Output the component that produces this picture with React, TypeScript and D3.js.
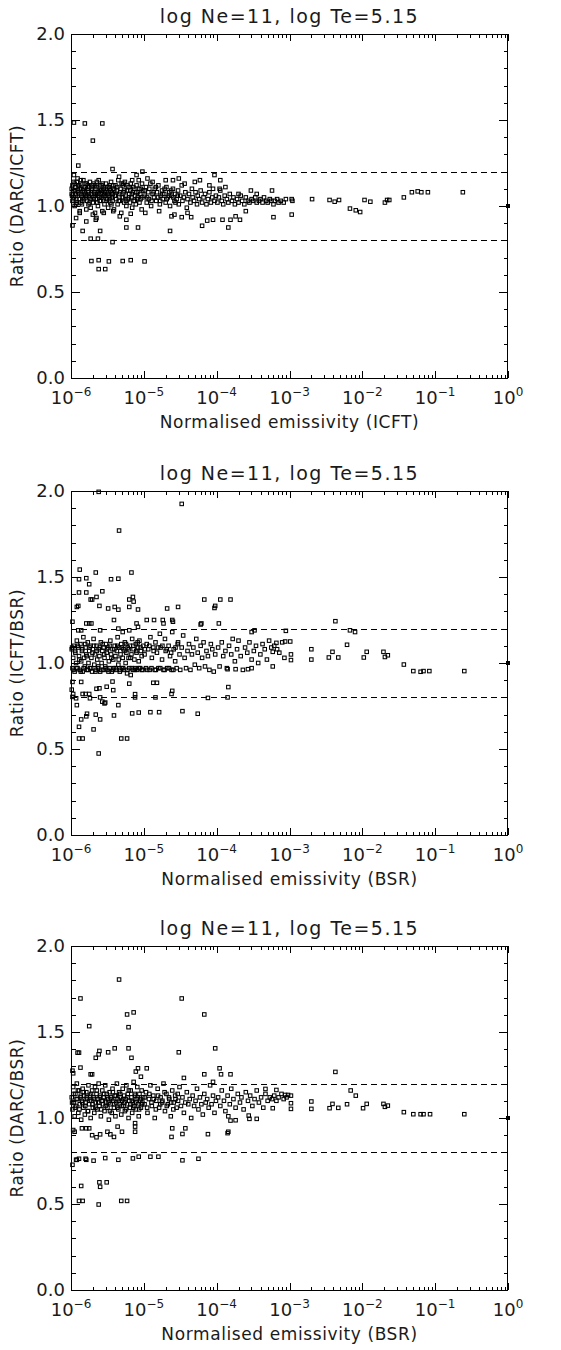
import React, { useEffect, useRef } from "react";
import * as d3 from "d3";

// each point: [log10 normalised emissivity, ratio]
const darcIcft: [number, number][] = [
  [-5.96,1.485],[-5.81,1.48],[-5.57,1.48],[-5.70,1.38],[-5.90,1.235],[-5.43,1.215],[-5.10,1.18],[-5.02,1.20],
  [-4.03,1.18],[-4.23,1.15],[-3.95,1.15],[-4.52,1.16],[-4.70,1.15],[-3.53,1.09],[-3.24,1.09],[-2.97,1.04],
  [-2.96,1.03],[-2.97,0.95],[-2.69,1.04],[-2.45,1.035],[-2.38,1.025],[-2.32,1.035],[-2.17,0.985],[-2.09,0.975],
  [-2.03,0.965],[-1.97,1.035],[-1.89,1.025],[-1.69,1.02],[-1.66,1.035],[-1.63,1.035],[-1.43,1.05],[-1.32,1.08],
  [-1.24,1.085],[-1.19,1.08],[-1.10,1.08],[-0.62,1.08],
  [-3.22,0.935],[-3.60,0.97],[-3.84,0.875],[-3.81,0.92],[-3.74,0.94],[-3.68,0.92],[-4.13,0.915],[-4.05,0.92],
  [-3.92,0.92],[-4.20,0.885],[-4.35,0.935],[-4.48,0.935],[-4.64,0.855],[-4.62,0.94],[-5.18,0.955],[-5.24,0.92],
  [-5.24,0.875],[-5.08,0.875],[-5.43,0.79],[-5.60,0.855],[-5.84,0.855],[-5.98,0.887],[-5.73,0.81],[-5.63,0.81],
  [-5.72,0.68],[-5.62,0.685],[-5.48,0.678],[-5.29,0.68],[-5.18,0.685],[-4.99,0.678],[-5.62,0.633],[-5.53,0.633],
  [-5.93,0.93],[-5.79,0.91],[-5.88,0.96],[-5.70,0.95],[-5.65,0.93],[-5.55,0.96],[-5.33,0.94],[-5.42,0.97],
  [-4.98,0.96],[-4.79,0.97],[-4.58,0.95],[-4.40,0.96],[-5.66,0.92],[-5.34,1.17],[-5.28,1.13],[-5.16,1.15],
  [-4.95,1.16],[-4.88,1.14],[-4.60,1.15],[-4.44,1.13],[-4.30,1.14],[-4.10,1.12],[-3.96,1.10],[-3.88,1.11],
  [-3.70,1.07],[-3.45,1.07],
  [-5.99,1.07],[-5.98,1.12],[-5.98,1.03],[-5.97,1.09],[-5.96,1.18],[-5.96,1.05],[-5.95,1.00],[-5.94,1.11],
  [-5.93,1.07],[-5.92,1.14],[-5.92,1.02],[-5.91,1.16],[-5.90,1.08],[-5.89,1.04],[-5.88,1.10],[-5.88,0.97],
  [-5.87,1.13],[-5.86,1.06],[-5.85,1.01],[-5.84,1.09],[-5.83,1.15],[-5.82,1.04],[-5.81,1.11],[-5.80,1.07],
  [-5.79,0.98],[-5.78,1.03],[-5.77,1.12],[-5.76,1.08],[-5.75,1.05],[-5.74,1.14],[-5.73,0.99],[-5.72,1.10],
  [-5.71,1.06],[-5.70,1.02],[-5.69,1.13],[-5.68,1.08],[-5.67,0.96],[-5.66,1.04],[-5.65,1.11],[-5.64,1.07],
  [-5.63,1.00],[-5.62,1.15],[-5.61,1.05],[-5.60,1.09],[-5.59,1.03],[-5.58,1.12],[-5.57,0.97],[-5.56,1.06],
  [-5.55,1.10],[-5.54,1.01],[-5.53,1.08],[-5.52,1.13],[-5.51,1.04],[-5.50,1.07],[-5.49,0.99],[-5.48,1.11],
  [-5.47,1.05],[-5.46,1.02],[-5.45,1.14],[-5.44,1.08],[-5.43,1.03],[-5.42,1.10],[-5.41,0.98],[-5.40,1.06],
  [-5.39,1.12],[-5.38,1.04],[-5.37,1.09],[-5.36,1.01],[-5.35,1.15],[-5.34,1.07],[-5.33,1.03],[-5.32,1.10],
  [-5.31,0.96],[-5.30,1.05],[-5.29,1.12],[-5.28,1.08],[-5.27,1.02],[-5.26,1.14],[-5.25,1.06],[-5.24,1.00],
  [-5.23,1.09],[-5.22,1.04],[-5.21,1.11],[-5.20,1.07],[-5.19,1.02],[-5.18,1.13],[-5.17,1.05],[-5.16,0.99],
  [-5.15,1.08],[-5.14,1.03],[-5.13,1.10],[-5.12,1.06],[-5.11,1.01],[-5.10,1.12],[-5.09,1.04],[-5.08,1.08],
  [-5.07,1.15],[-5.06,1.02],[-5.05,1.07],[-5.04,1.10],[-5.03,0.98],[-5.02,1.05],[-5.01,1.09],
  [-5.99,1.10],[-5.97,1.04],[-5.95,1.13],[-5.94,1.06],[-5.93,1.01],[-5.91,1.09],[-5.89,1.12],[-5.87,1.02],
  [-5.86,1.10],[-5.84,1.05],[-5.82,1.08],[-5.80,1.13],[-5.78,1.06],[-5.76,1.01],[-5.75,1.11],[-5.73,1.04],
  [-5.71,1.09],[-5.69,1.05],[-5.67,1.12],[-5.66,1.07],[-5.64,1.02],[-5.62,1.08],[-5.60,1.12],[-5.58,1.05],
  [-5.56,1.09],[-5.54,1.06],[-5.52,1.03],[-5.50,1.11],[-5.48,1.06],[-5.46,1.09],[-5.44,1.05],[-5.42,1.12],
  [-5.985,1.06],[-5.965,1.14],[-5.945,1.09],[-5.925,1.04],[-5.905,1.12],[-5.885,1.07],[-5.865,1.15],[-5.845,1.03],
  [-5.825,1.10],[-5.805,1.06],[-5.785,1.13],[-5.765,1.09],[-5.745,1.02],[-5.725,1.07],[-5.705,1.12],[-5.685,1.04],
  [-5.665,1.10],[-5.645,1.14],[-5.625,1.06],[-5.605,1.03],[-5.585,1.09],[-5.565,1.13],[-5.545,1.07],[-5.525,1.10],
  [-5.505,1.04],[-5.485,1.08],[-5.465,1.12],[-5.445,1.01],[-5.425,1.07],[-5.405,1.09],[-5.385,1.06],[-5.365,1.11],
  [-5.345,1.03],[-5.325,1.08],[-5.305,1.13],[-5.285,1.05],[-5.265,1.09],[-5.245,1.03],[-5.225,1.12],[-5.205,1.05],
  [-5.185,1.09],[-5.165,1.07],[-5.145,1.11],[-5.125,1.03],[-5.105,1.08],[-5.085,1.05],[-5.065,1.10],[-5.045,1.04],
  [-5.025,1.13],[-4.985,1.09],[-4.955,1.05],[-4.925,1.10],[-4.895,1.03],[-4.865,1.08],[-4.835,1.11],[-4.805,1.05],
  [-4.775,1.03],[-4.745,1.07],[-4.715,1.10],[-4.685,1.04],[-4.655,1.06],[-4.625,1.09],[-4.595,1.05],[-4.565,1.02],
  [-4.535,1.06],
  [-4.99,1.06],[-4.97,1.11],[-4.96,1.02],[-4.94,1.08],[-4.93,1.04],[-4.91,1.13],[-4.90,1.00],[-4.88,1.07],
  [-4.86,1.05],[-4.85,1.10],[-4.83,1.03],[-4.82,1.08],[-4.80,1.12],[-4.78,1.01],[-4.77,1.06],[-4.75,1.09],
  [-4.74,1.04],[-4.72,1.07],[-4.70,1.02],[-4.69,1.11],[-4.67,1.05],[-4.65,1.08],[-4.64,1.00],[-4.62,1.06],
  [-4.60,1.10],[-4.58,1.03],[-4.57,1.07],[-4.55,1.04],[-4.53,1.09],[-4.52,1.01],[-4.50,1.06],[-4.48,1.12],
  [-4.47,1.03],[-4.45,1.05],[-4.43,1.08],[-4.41,0.99],[-4.40,1.04],[-4.38,1.07],[-4.36,1.02],[-4.34,1.10],
  [-4.33,1.05],[-4.31,1.03],[-4.29,1.08],[-4.27,1.01],[-4.26,1.06],[-4.24,1.04],[-4.22,1.09],[-4.20,1.02],
  [-4.18,1.05],[-4.16,1.07],[-4.14,1.01],[-4.12,1.04],[-4.10,1.08],[-4.08,1.02],[-4.06,1.05],[-4.05,1.10],
  [-4.03,1.03],[-4.01,1.06],
  [-3.99,1.02],[-3.97,1.05],[-3.95,1.09],[-3.93,1.03],[-3.91,1.01],[-3.89,1.06],[-3.86,1.04],[-3.84,1.02],
  [-3.82,1.07],[-3.79,1.03],[-3.77,1.05],[-3.75,1.01],[-3.72,1.04],[-3.70,1.02],[-3.67,1.06],[-3.65,1.03],
  [-3.62,1.01],[-3.60,1.05],[-3.57,1.03],[-3.55,1.02],[-3.52,1.04],[-3.50,1.03],[-3.47,1.05],[-3.45,1.02],
  [-3.42,1.03],[-3.40,1.04],[-3.37,1.02],[-3.35,1.05],[-3.32,1.03],[-3.30,1.02],[-3.27,1.04],[-3.25,1.03],
  [-3.22,1.01],[-3.20,1.03],[-3.17,1.04],[-3.15,1.02],[-3.12,1.03],[-3.08,1.02],[-3.05,1.04],
];

const icftBsr: [number, number][] = [
  [-5.62,1.995],[-4.48,1.925],[-5.34,1.77],[-5.88,1.543],[-5.89,1.487],[-5.79,1.493],[-5.75,1.458],[-5.66,1.526],
  [-5.89,1.41],[-5.79,1.41],[-5.73,1.369],[-5.71,1.369],[-5.65,1.384],[-5.57,1.417],[-5.45,1.487],[-5.35,1.49],
  [-5.17,1.526],[-5.92,1.326],[-5.90,1.332],[-5.61,1.332],[-5.49,1.317],[-5.40,1.326],[-5.35,1.31],[-5.20,1.369],
  [-5.15,1.384],[-5.14,1.357],[-5.20,1.326],[-5.08,1.311],[-4.17,1.369],[-3.95,1.369],[-3.81,1.369],[-4.02,1.332],
  [-4.03,1.32],[-4.68,1.317],[-4.53,1.326],[-2.37,1.243],[-2.17,1.19],[-2.10,1.18],[-2.21,1.106],[-2.41,1.065],
  [-2.33,1.032],[-2.46,1.032],[-2.70,1.08],[-2.70,1.02],[-2.98,1.05],[-2.98,1.017],[-1.98,1.032],[-1.94,1.065],
  [-1.71,1.065],[-1.69,1.035],[-1.65,1.045],[-1.43,0.991],[-1.30,0.953],[-1.20,0.949],[-1.16,0.953],[-1.08,0.953],
  [-0.60,0.953],
  [-3.06,1.125],[-2.99,1.125],[-3.05,1.187],[-3.23,1.065],[-3.23,0.98],[-3.18,1.117],[-3.48,1.19],[-3.52,1.18],
  [-3.97,1.23],[-4.22,1.224],[-3.74,0.964],[-3.85,0.964],[-3.57,0.964],[-3.52,0.97],[-3.84,0.86],[-3.85,0.80],
  [-4.12,0.797],[-4.26,0.705],[-4.47,0.72],[-4.61,0.838],[-4.62,0.82],[-4.84,0.80],[-4.91,0.714],[-4.79,0.714],
  [-4.87,0.885],[-4.82,0.885],[-5.12,0.819],[-5.12,0.80],[-5.07,0.712],[-5.16,0.707],[-5.20,0.88],[-5.43,0.892],
  [-5.51,0.862],[-5.42,0.842],[-5.54,0.765],[-5.35,0.755],[-5.41,0.695],[-5.31,0.561],[-5.23,0.561],[-5.69,0.614],
  [-5.66,0.70],[-5.60,0.672],[-5.62,0.474],[-5.78,0.705],[-5.79,0.69],[-5.86,0.672],[-5.89,0.629],[-5.89,0.561],
  [-5.84,0.561],[-5.92,0.755],[-5.98,0.803],[-5.97,0.82],[-5.99,0.845],[-5.93,0.795],[-5.84,0.82],[-5.80,0.82],
  [-5.75,0.82],[-5.74,0.795],[-5.60,0.80],[-5.57,0.775],[-5.53,0.77],[-5.65,0.85],[-5.61,0.853],[-5.98,0.89],
  [-5.86,0.89],
  [-5.98,1.24],[-5.90,1.19],[-5.86,1.19],[-5.79,1.23],[-5.75,1.23],[-5.72,1.23],[-5.60,1.19],[-5.41,1.25],
  [-5.35,1.20],[-5.29,1.18],[-5.20,1.19],[-5.10,1.23],[-5.08,1.21],[-4.96,1.25],[-4.86,1.25],[-4.74,1.25],
  [-4.73,1.23],[-4.61,1.25],[-4.60,1.24],[-4.21,1.23],
  [-5.99,1.08],[-5.98,0.97],[-5.97,1.03],[-5.96,1.10],[-5.95,0.95],[-5.94,1.06],[-5.93,1.00],[-5.92,1.13],
  [-5.91,0.97],[-5.90,1.09],[-5.89,1.04],[-5.88,0.96],[-5.87,1.11],[-5.86,1.01],[-5.85,1.07],[-5.84,0.95],
  [-5.83,1.15],[-5.82,1.03],[-5.81,0.98],[-5.80,1.09],[-5.79,1.05],[-5.78,0.96],[-5.77,1.12],[-5.76,1.00],
  [-5.75,1.07],[-5.74,0.97],[-5.73,1.10],[-5.72,1.03],[-5.71,0.95],[-5.70,1.08],[-5.69,1.14],[-5.68,0.99],
  [-5.67,1.05],[-5.66,0.96],[-5.65,1.10],[-5.64,1.02],[-5.63,0.97],[-5.62,1.08],[-5.61,1.04],[-5.60,0.95],
  [-5.59,1.12],[-5.58,1.00],[-5.57,1.07],[-5.56,0.96],[-5.55,1.09],[-5.54,1.03],[-5.53,0.98],[-5.52,1.11],
  [-5.51,1.06],[-5.50,0.96],[-5.49,1.09],[-5.48,1.01],[-5.47,0.97],[-5.46,1.13],[-5.45,1.05],[-5.44,0.95],
  [-5.43,1.08],[-5.42,1.02],[-5.41,0.97],[-5.40,1.10],[-5.39,1.04],[-5.38,0.96],[-5.37,1.07],[-5.36,1.15],
  [-5.35,0.99],[-5.34,1.09],[-5.33,0.95],[-5.32,1.05],[-5.31,1.11],[-5.30,0.97],[-5.29,1.03],[-5.28,1.08],
  [-5.27,0.96],[-5.26,1.12],[-5.25,1.00],[-5.24,1.06],[-5.23,0.94],[-5.22,1.09],[-5.21,1.03],[-5.20,0.97],
  [-5.19,1.10],[-5.18,0.93],[-5.17,1.05],[-5.16,1.14],[-5.15,0.96],[-5.14,1.08],[-5.13,1.02],[-5.12,0.97],
  [-5.11,1.11],[-5.10,1.06],[-5.09,0.96],[-5.08,1.09],[-5.07,1.01],[-5.06,1.13],[-5.05,0.97],[-5.04,1.07],
  [-5.03,1.04],[-5.02,0.96],[-5.01,1.10],
  [-5.985,1.09],[-5.965,0.96],[-5.945,1.07],[-5.925,0.97],[-5.905,1.10],[-5.885,1.02],[-5.865,0.95],[-5.845,1.08],
  [-5.825,0.97],[-5.805,1.11],[-5.785,1.04],[-5.765,0.96],[-5.745,1.09],[-5.725,0.97],[-5.705,1.06],[-5.685,1.10],
  [-5.665,0.95],[-5.645,1.07],[-5.625,0.98],[-5.605,1.09],[-5.585,0.96],[-5.565,1.11],[-5.545,1.05],[-5.525,0.97],
  [-5.505,1.08],[-5.485,0.95],[-5.465,1.10],[-5.445,1.03],[-5.425,0.96],[-5.405,1.08],[-5.385,0.97],[-5.365,1.10],
  [-5.345,1.02],[-5.325,0.96],[-5.305,1.09],[-5.285,0.97],[-5.265,1.07],[-5.245,1.11],[-5.225,0.96],[-5.205,1.08],
  [-5.185,1.03],[-5.165,0.97],[-5.145,1.10],[-5.125,0.96],[-5.105,1.07],[-5.085,1.12],[-5.065,0.97],[-5.045,1.09],
  [-5.025,0.96],[-4.985,1.08],[-4.955,0.96],[-4.925,1.10],[-4.895,0.97],[-4.865,1.07],[-4.835,0.96],[-4.805,1.09],
  [-4.775,0.97],[-4.745,1.10],[-4.715,0.96],[-4.685,1.08],[-4.655,0.97],[-4.625,1.06],[-4.595,0.96],[-4.565,1.09],
  [-4.535,1.11],
  [-4.99,1.05],[-4.97,0.97],[-4.96,1.11],[-4.94,1.08],[-4.92,0.96],[-4.91,1.15],[-4.89,1.03],[-4.87,1.09],
  [-4.85,0.96],[-4.84,1.12],[-4.82,1.06],[-4.80,0.97],[-4.78,1.17],[-4.77,1.09],[-4.75,1.02],[-4.73,0.96],
  [-4.71,1.14],[-4.70,1.07],[-4.68,0.97],[-4.66,1.10],[-4.64,1.04],[-4.62,0.96],[-4.61,1.18],[-4.59,1.08],
  [-4.57,1.01],[-4.55,0.97],[-4.53,1.12],[-4.51,1.05],[-4.50,0.96],[-4.48,1.09],[-4.46,1.16],[-4.44,1.03],
  [-4.42,0.97],[-4.40,1.07],[-4.38,1.11],[-4.36,0.96],[-4.34,1.05],[-4.32,1.09],[-4.30,0.99],[-4.28,1.14],
  [-4.26,1.06],[-4.24,0.97],[-4.22,1.10],[-4.20,1.03],[-4.18,1.12],[-4.16,0.98],[-4.14,1.07],[-4.12,1.04],
  [-4.10,0.96],[-4.08,1.11],[-4.06,1.08],[-4.04,0.95],[-4.02,1.05],
  [-3.98,1.09],[-3.96,0.98],[-3.93,1.12],[-3.91,1.04],[-3.88,1.07],[-3.86,0.97],[-3.83,1.10],[-3.80,1.05],
  [-3.78,1.14],[-3.75,1.01],[-3.72,1.08],[-3.70,1.13],[-3.67,1.04],[-3.64,0.96],[-3.61,1.09],[-3.58,1.06],
  [-3.55,1.12],[-3.52,1.02],[-3.49,1.07],[-3.46,1.10],[-3.43,1.00],[-3.40,1.05],[-3.37,1.11],[-3.34,1.08],
  [-3.31,1.02],[-3.28,1.13],[-3.25,1.09],[-3.21,1.10],[-3.17,1.08],[-3.14,1.06],[-3.10,1.12],[-3.07,1.03],
];

const darcBsr: [number, number][] = [
  [-5.34,1.805],[-5.87,1.695],[-4.48,1.695],[-4.17,1.602],[-5.23,1.602],[-5.14,1.614],[-5.75,1.534],[-5.21,1.528],
  [-5.21,1.405],[-5.40,1.405],[-5.49,1.382],[-5.61,1.39],[-5.62,1.37],[-5.66,1.35],[-5.91,1.38],[-5.89,1.38],
  [-5.17,1.35],[-4.52,1.382],[-4.02,1.405],[-2.37,1.268],[-5.08,1.289],[-4.96,1.289],[-5.11,1.27],[-5.04,1.24],
  [-5.87,1.293],[-5.97,1.26],[-5.98,1.275],[-5.73,1.254],[-5.71,1.254],[-4.45,1.233],[-4.17,1.254],[-3.96,1.289],
  [-3.94,1.254],[-3.81,1.254],[-4.05,1.21],[-2.16,1.16],[-2.09,1.13],[-2.70,1.096],[-2.70,1.053],[-2.45,1.057],
  [-2.41,1.082],[-2.33,1.059],[-2.21,1.08],[-1.99,1.057],[-1.94,1.082],[-1.71,1.082],[-1.69,1.065],[-1.65,1.072],
  [-1.43,1.034],[-1.30,1.022],[-1.20,1.022],[-1.16,1.022],[-1.07,1.022],[-0.60,1.022],
  [-2.98,1.13],[-2.98,1.086],[-2.98,1.053],[-3.06,1.134],[-3.02,1.134],[-3.18,1.163],[-3.33,1.169],[-3.23,1.057],
  [-3.45,0.995],[-3.56,1.014],[-3.55,0.995],[-3.74,0.987],[-3.84,1.01],[-3.81,0.985],[-3.84,0.92],[-3.85,0.912],
  [-4.25,0.763],[-4.47,0.754],[-4.12,0.906],[-4.43,0.94],[-4.47,0.907],[-4.62,0.89],[-4.61,0.94],[-4.80,0.775],
  [-4.91,0.775],[-5.07,0.775],[-5.15,0.765],[-5.12,0.95],[-5.12,0.92],[-5.12,0.97],[-5.35,0.757],[-5.53,0.767],
  [-5.69,0.752],[-5.80,0.763],[-5.79,0.757],[-5.92,0.757],[-5.89,0.763],[-5.93,0.757],[-5.98,0.728],[-5.61,0.626],
  [-5.51,0.626],[-5.60,0.60],[-5.86,0.605],[-5.89,0.518],[-5.84,0.518],[-5.62,0.497],[-5.31,0.518],[-5.23,0.518],
  [-5.75,0.94],[-5.79,0.94],[-5.71,0.90],[-5.60,0.905],[-5.65,0.888],[-5.50,0.92],[-5.46,0.905],[-5.41,0.89],
  [-5.97,0.93],[-5.95,0.92],[-5.85,0.94],[-5.36,0.95],[-5.30,0.92],
  [-5.99,1.12],[-5.98,1.05],[-5.97,1.18],[-5.96,1.09],[-5.95,1.01],[-5.94,1.14],[-5.93,1.07],[-5.92,1.20],
  [-5.91,1.11],[-5.90,1.03],[-5.89,1.16],[-5.88,1.08],[-5.87,1.12],[-5.86,0.99],[-5.85,1.10],[-5.84,1.17],
  [-5.83,1.06],[-5.82,1.13],[-5.81,1.02],[-5.80,1.09],[-5.79,1.15],[-5.78,1.11],[-5.77,1.04],[-5.76,1.19],
  [-5.75,1.08],[-5.74,1.13],[-5.73,1.00],[-5.72,1.10],[-5.71,1.16],[-5.70,1.06],[-5.69,1.12],[-5.68,1.03],
  [-5.67,1.18],[-5.66,1.09],[-5.65,1.14],[-5.64,1.05],[-5.63,1.11],[-5.62,1.20],[-5.61,1.07],[-5.60,1.13],
  [-5.59,1.01],[-5.58,1.10],[-5.57,1.16],[-5.56,1.08],[-5.55,1.12],[-5.54,1.04],[-5.53,1.19],[-5.52,1.09],
  [-5.51,1.14],[-5.50,1.06],[-5.49,1.11],[-5.48,0.99],[-5.47,1.15],[-5.46,1.08],[-5.45,1.12],[-5.44,1.03],
  [-5.43,1.17],[-5.42,1.10],[-5.41,1.06],[-5.40,1.13],[-5.39,1.01],[-5.38,1.09],[-5.37,1.20],[-5.36,1.11],
  [-5.35,1.05],[-5.34,1.15],[-5.33,1.08],[-5.32,1.12],[-5.31,1.02],[-5.30,1.10],[-5.29,1.17],[-5.28,1.07],
  [-5.27,1.13],[-5.26,1.04],[-5.25,1.11],[-5.24,1.19],[-5.23,1.08],[-5.22,1.14],[-5.21,1.00],[-5.20,1.10],
  [-5.19,1.06],[-5.18,1.16],[-5.17,1.12],[-5.16,1.03],[-5.15,1.09],[-5.14,1.21],[-5.13,1.07],[-5.12,1.13],
  [-5.11,1.05],[-5.10,1.11],[-5.09,1.18],[-5.08,1.08],[-5.07,1.01],[-5.06,1.14],[-5.05,1.10],[-5.04,1.06],
  [-5.03,1.16],[-5.02,1.09],[-5.01,1.12],
  [-5.985,1.09],[-5.965,1.14],[-5.945,1.06],[-5.925,1.11],[-5.905,1.16],[-5.885,1.05],[-5.865,1.13],[-5.845,1.09],
  [-5.825,1.15],[-5.805,1.07],[-5.785,1.12],[-5.765,1.04],[-5.745,1.10],[-5.725,1.14],[-5.705,1.08],[-5.685,1.11],
  [-5.665,1.06],[-5.645,1.16],[-5.625,1.09],[-5.605,1.12],[-5.585,1.05],[-5.565,1.10],[-5.545,1.14],[-5.525,1.07],
  [-5.505,1.12],[-5.485,1.09],[-5.465,1.04],[-5.445,1.11],[-5.425,1.15],[-5.405,1.08],[-5.385,1.13],[-5.365,1.06],
  [-5.345,1.10],[-5.325,1.14],[-5.305,1.07],[-5.285,1.11],[-5.265,1.09],[-5.245,1.05],[-5.225,1.12],[-5.205,1.16],
  [-5.185,1.08],[-5.165,1.10],[-5.145,1.06],[-5.125,1.14],[-5.105,1.09],[-5.085,1.12],[-5.065,1.05],[-5.045,1.11],
  [-5.025,1.08],[-4.985,1.12],[-4.955,1.06],[-4.925,1.14],[-4.895,1.09],[-4.865,1.11],[-4.835,1.05],[-4.805,1.13],
  [-4.775,1.08],[-4.745,1.10],[-4.715,1.15],[-4.685,1.07],[-4.655,1.12],[-4.625,1.09],[-4.595,1.05],[-4.565,1.11],
  [-4.535,1.14],
  [-4.99,1.08],[-4.97,1.15],[-4.95,1.03],[-4.93,1.11],[-4.91,1.19],[-4.89,1.07],[-4.87,1.13],[-4.85,1.00],
  [-4.83,1.10],[-4.81,1.17],[-4.79,1.06],[-4.77,1.12],[-4.75,1.09],[-4.73,1.20],[-4.71,1.04],[-4.69,1.14],
  [-4.67,1.08],[-4.65,1.11],[-4.63,1.01],[-4.61,1.16],[-4.59,1.09],[-4.57,1.13],[-4.55,1.06],[-4.53,1.10],
  [-4.51,1.18],[-4.49,1.07],[-4.47,1.12],[-4.45,1.03],[-4.43,1.09],[-4.41,1.15],[-4.39,1.08],[-4.37,1.11],
  [-4.35,1.00],[-4.33,1.13],[-4.31,1.07],[-4.29,1.10],[-4.27,1.17],[-4.25,1.05],[-4.23,1.12],[-4.21,1.08],
  [-4.19,1.02],[-4.17,1.14],[-4.15,1.09],[-4.13,1.11],[-4.11,1.06],[-4.09,1.19],[-4.07,1.08],[-4.05,1.13],
  [-4.03,1.03],[-4.01,1.10],
  [-3.98,1.12],[-3.95,1.07],[-3.93,1.16],[-3.90,1.10],[-3.88,1.04],[-3.85,1.13],[-3.82,1.08],[-3.80,1.17],
  [-3.77,1.11],[-3.74,1.06],[-3.71,1.14],[-3.68,1.09],[-3.66,1.12],[-3.63,1.05],[-3.60,1.15],[-3.57,1.10],
  [-3.54,1.13],[-3.51,1.07],[-3.48,1.11],[-3.45,1.16],[-3.42,1.09],[-3.39,1.12],[-3.36,1.06],[-3.33,1.14],
  [-3.30,1.10],[-3.27,1.12],[-3.24,1.11],[-3.21,1.13],[-3.18,1.10],[-3.15,1.12],[-3.11,1.14],[-3.08,1.11],
  [-3.04,1.12],
];

// the reference line itself sits at emissivity 1, ratio 1
const unityPoint: [number, number] = [0, 1.0];

const panelData = [darcIcft, icftBsr, darcBsr];
const titles = ["log Ne=11, log Te=5.15", "log Ne=11, log Te=5.15", "log Ne=11, log Te=5.15"];
const yTitles = ["Ratio (DARC/ICFT)", "Ratio (ICFT/BSR)", "Ratio (DARC/BSR)"];
const xTitles = ["Normalised emissivity (ICFT)", "Normalised emissivity (BSR)", "Normalised emissivity (BSR)"];
const limitLines = [1.2, 0.8];
const yLabels = ["0.0", "0.5", "1.0", "1.5", "2.0"];
const xExponents = ["−6", "−5", "−4", "−3", "−2", "−1", "0"];

const FONT = "'DejaVu Sans', sans-serif";
const INK = "#1a1a1a";

export default function App() {
  const ref = useRef<SVGSVGElement>(null);

  useEffect(() => {
    if (!ref.current) return;
    const root = d3.select(ref.current);
    root.selectAll("*").remove();

    const W = 437;
    const H = 344;
    const left = 71;
    const tops = [34, 491, 946];

    const x = d3.scaleLog().domain([1e-6, 1]).range([0, W]);
    const y = d3.scaleLinear().domain([0, 2]).range([H, 0]);
    const crisp = (v: number) => Math.round(v) + 0.5;

    panelData.forEach((pts, i) => {
      const g = root.append("g").attr("transform", `translate(${left},${tops[i]})`);

      // frame
      g.append("rect")
        .attr("x", 0.5).attr("y", 0.5)
        .attr("width", W - 1).attr("height", H)
        .attr("fill", "none").attr("stroke", "#000").attr("stroke-width", 1)
        .attr("shape-rendering", "crispEdges");

      // x ticks (log: majors at decades)
      x.ticks().forEach((v) => {
        const lv = Math.log10(v);
        const major = Math.abs(lv - Math.round(lv)) < 1e-9;
        const len = major ? 7 : 3.5;
        const px = crisp(x(v));
        g.append("line").attr("x1", px).attr("x2", px).attr("y1", H).attr("y2", H - len)
          .attr("stroke", "#000").attr("shape-rendering", "crispEdges");
        g.append("line").attr("x1", px).attr("x2", px).attr("y1", 0).attr("y2", len)
          .attr("stroke", "#000").attr("shape-rendering", "crispEdges");
      });

      // y ticks every 0.1, majors every 0.5
      y.ticks(20).forEach((v) => {
        const major = Math.abs(v * 2 - Math.round(v * 2)) < 1e-9;
        const len = major ? 9 : 4.5;
        const py = crisp(y(v));
        g.append("line").attr("x1", 0).attr("x2", len).attr("y1", py).attr("y2", py)
          .attr("stroke", "#000").attr("shape-rendering", "crispEdges");
        g.append("line").attr("x1", W).attr("x2", W - len).attr("y1", py).attr("y2", py)
          .attr("stroke", "#000").attr("shape-rendering", "crispEdges");
      });

      // y tick labels
      yLabels.forEach((lab) => {
        g.append("text")
          .attr("x", -6).attr("y", y(+lab) + 6)
          .attr("text-anchor", "end")
          .style("font-family", FONT).style("font-size", "18px").attr("fill", INK)
          .text(lab);
      });

      // x tick labels 10^n
      xExponents.forEach((ex, k) => {
        const t = g.append("text")
          .attr("x", x(Math.pow(10, k - 6)))
          .attr("y", H + 26)
          .attr("text-anchor", "middle")
          .style("font-family", FONT).attr("fill", INK);
        t.append("tspan").style("font-size", "18px").text("10");
        t.append("tspan").style("font-size", "12px").attr("dy", -8).text(ex);
      });

      // limit lines
      limitLines.forEach((v) => {
        g.append("line")
          .attr("x1", 0).attr("x2", W)
          .attr("y1", crisp(y(v))).attr("y2", crisp(y(v)))
          .attr("stroke", "#000").attr("stroke-dasharray", "6,4")
          .attr("shape-rendering", "crispEdges");
      });

      // points: small open squares
      g.selectAll("rect.pt")
        .data(pts)
        .enter()
        .append("rect")
        .attr("class", "pt")
        .attr("x", (d) => x(Math.pow(10, d[0])) - 1.75)
        .attr("y", (d) => y(d[1]) - 1.75)
        .attr("width", 3.5).attr("height", 3.5)
        .attr("fill", "none").attr("stroke", "#000").attr("stroke-width", 1.05);

      g.append("rect")
        .attr("x", x(Math.pow(10, unityPoint[0])) - 2)
        .attr("y", y(unityPoint[1]) - 2)
        .attr("width", 4).attr("height", 4)
        .attr("fill", "#000");

      // titles
      g.append("text")
        .attr("x", W / 2).attr("y", -11)
        .attr("text-anchor", "middle")
        .style("font-family", FONT).style("font-size", "19px").style("letter-spacing", "1.5px")
        .attr("fill", INK)
        .text(titles[i]);

      g.append("text")
        .attr("x", W / 2).attr("y", H + 50)
        .attr("text-anchor", "middle")
        .style("font-family", FONT).style("font-size", "17px").style("letter-spacing", "0.6px")
        .attr("fill", INK)
        .text(xTitles[i]);

      g.append("text")
        .attr("transform", `translate(-48,${H / 2}) rotate(-90)`)
        .attr("text-anchor", "middle")
        .style("font-family", FONT).style("font-size", "17px").style("letter-spacing", "0.6px")
        .attr("fill", INK)
        .text(yTitles[i]);
    });
  }, []);

  return (
    <svg
      ref={ref}
      width={561}
      height={1350}
      style={{ position: "absolute", left: 0, top: 0, background: "#fff" }}
    />
  );
}
